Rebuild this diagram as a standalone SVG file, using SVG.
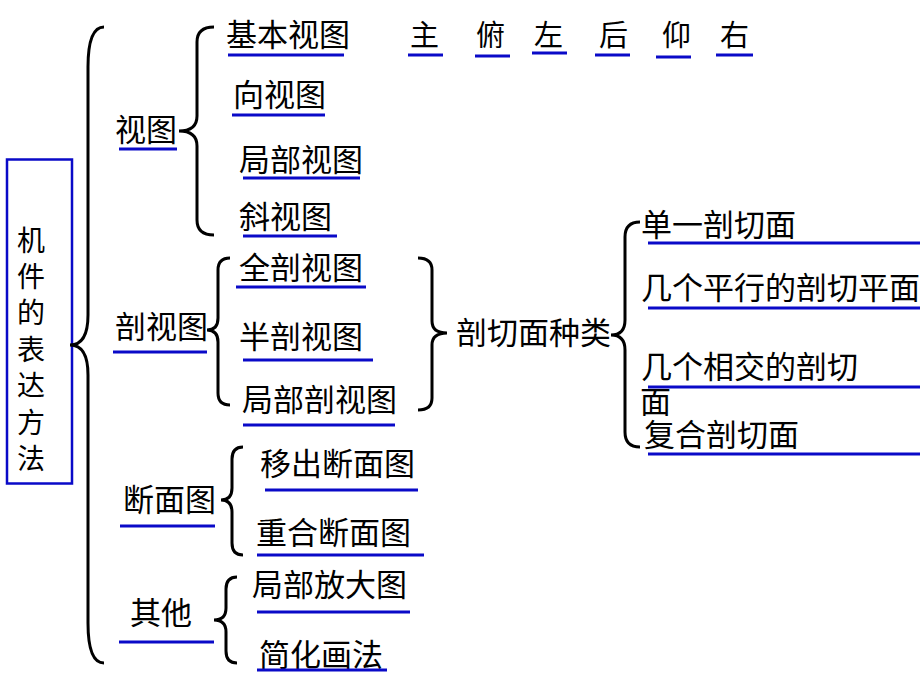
<svg xmlns="http://www.w3.org/2000/svg" width="920" height="690" viewBox="0 0 920 690">
<style>
text{font-family:"Noto Sans CJK SC","Liberation Sans",sans-serif;font-size:31px;fill:#000}
.s{font-size:29px}
.v{font-size:28px}
.u{stroke:#0a0ac8;stroke-width:3;fill:none}
.b{stroke:#000;stroke-width:3;fill:none}
</style>
<rect width="920" height="690" fill="#fff"/>
<g id="root">
<rect x="7" y="159.5" width="65" height="324" fill="none" stroke="#0a0ac8" stroke-width="2.5"/>
<text x="31" y="251" text-anchor="middle" class="v">机</text>
<text x="31" y="287" text-anchor="middle" class="v">件</text>
<text x="31" y="323" text-anchor="middle" class="v">的</text>
<text x="31" y="360" text-anchor="middle" class="v">表</text>
<text x="31" y="396" text-anchor="middle" class="v">达</text>
<text x="31" y="433" text-anchor="middle" class="v">方</text>
<text x="31" y="469" text-anchor="middle" class="v">法</text>
</g>
<g id="connectors">
<path class="b" d="M104,27 Q88,27 88,67 L88,315 Q88,345 70,345 Q88,345 88,375 L88,623 Q88,663 104,663"/>
<path class="b" d="M214,27 Q197,27 197,42 L197,116 Q197,131 179,131 Q197,131 197,146 L197,220 Q197,235 214,235"/>
<path class="b" d="M230,258 Q218,258 218,270 L218,318 Q218,330 207,330 Q218,330 218,342 L218,393 Q218,405 230,405"/>
<path class="b" d="M418,258 Q432,258 432,270 L432,321 Q432,333 447,333 Q432,333 432,345 L432,398 Q432,410 418,410"/>
<path class="b" d="M640,222 Q625,222 625,237 L625,320 Q625,335 611,335 Q625,335 625,350 L625,432 Q625,447 640,447"/>
<path class="b" d="M243,447 Q232,447 232,459 L232,488 Q232,500 221,500 Q232,500 232,512 L232,543 Q232,555 243,555"/>
<path class="b" d="M237,577 Q226,577 226,589 L226,608 Q226,620 214,620 Q226,620 226,632 L226,651 Q226,663 237,663"/>
</g>
<g id="n-view">
<text x="115" y="141">视图</text><line class="u" x1="119" y1="149" x2="177" y2="149"/>
</g>
<g id="n-basic">
<text x="226" y="46">基本视图</text><line class="u" x1="228" y1="55" x2="344" y2="55"/>
</g>
<g id="n-six">
<text x="410" y="46" class="s">主</text><line class="u" x1="408" y1="55" x2="443" y2="55"/>
<text x="476" y="46" class="s">俯</text><line class="u" x1="475" y1="56" x2="510" y2="56"/>
<text x="534" y="46" class="s">左</text><line class="u" x1="532" y1="53" x2="567" y2="53"/>
<text x="599" y="46" class="s">后</text><line class="u" x1="595" y1="55" x2="630" y2="55"/>
<text x="662" y="46" class="s">仰</text><line class="u" x1="656" y1="57" x2="691" y2="57"/>
<text x="720" y="46" class="s">右</text><line class="u" x1="716" y1="55" x2="753" y2="55"/>
</g>
<g id="n-dir">
<text x="233" y="106">向视图</text><line class="u" x1="232" y1="115" x2="325" y2="115"/>
</g>
<g id="n-partview">
<text x="239" y="171">局部视图</text><line class="u" x1="243" y1="178" x2="360" y2="178"/>
</g>
<g id="n-oblique">
<text x="239" y="228">斜视图</text><line class="u" x1="243" y1="236" x2="337" y2="236"/>
</g>
<g id="n-section">
<text x="115" y="338">剖视图</text><line class="u" x1="113" y1="352" x2="207" y2="352"/>
</g>
<g id="n-full">
<text x="239" y="279">全剖视图</text><line class="u" x1="236" y1="287" x2="366" y2="287"/>
</g>
<g id="n-half">
<text x="239" y="348">半剖视图</text><line class="u" x1="243" y1="360" x2="373" y2="360"/>
</g>
<g id="n-partsec">
<text x="242" y="411">局部剖视图</text><line class="u" x1="243" y1="425" x2="395" y2="425"/>
</g>
<g id="n-planes">
<text x="456" y="344">剖切面种类</text>
</g>
<g id="n-single">
<text x="641" y="236">单一剖切面</text><line class="u" x1="648" y1="243" x2="920" y2="243"/>
</g>
<g id="n-parallel">
<text x="641" y="299">几个平行的剖切平面</text><line class="u" x1="648" y1="308" x2="920" y2="308"/>
</g>
<g id="n-intersect">
<text x="641" y="378">几个相交的剖切</text><text x="640" y="413">面</text><line class="u" x1="648" y1="387" x2="920" y2="387"/>
</g>
<g id="n-compound">
<text x="644" y="446">复合剖切面</text><line class="u" x1="648" y1="454" x2="920" y2="454"/>
</g>
<g id="n-cut">
<text x="123" y="511">断面图</text><line class="u" x1="120" y1="526" x2="215" y2="526"/>
</g>
<g id="n-removed">
<text x="260" y="475">移出断面图</text><line class="u" x1="265" y1="490" x2="418" y2="490"/>
</g>
<g id="n-overlap">
<text x="256" y="544">重合断面图</text><line class="u" x1="257" y1="555" x2="424" y2="555"/>
</g>
<g id="n-other">
<text x="130" y="624">其他</text><line class="u" x1="119" y1="642" x2="214" y2="642"/>
</g>
<g id="n-enlarge">
<text x="252" y="596">局部放大图</text><line class="u" x1="257" y1="612" x2="410" y2="612"/>
</g>
<g id="n-simplify">
<text x="259" y="666">简化画法</text><line class="u" x1="257" y1="670" x2="387" y2="670"/>
</g>
</svg>
